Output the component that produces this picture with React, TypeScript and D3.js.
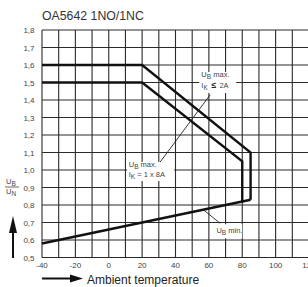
import * as d3 from "d3";
import React, { useEffect, useRef } from "react";

// axis ticks
const xTicks = [-40, -20, 0, 20, 40, 60, 80, 100, 120];
const yTicks = [1.8, 1.7, 1.6, 1.5, 1.4, 1.3, 1.2, 1.1, 1.0, 0.9, 0.8, 0.7, 0.6, 0.5];
const xGrid = d3.range(-40, 121, 10);

// curves [temp, U_B/U_N]
const maxHigh: [number, number][] = [[-40, 1.6], [20, 1.6], [85, 1.1], [85, 0.83]];
const maxLow: [number, number][] = [[-40, 1.5], [20, 1.5], [80, 1.05], [80, 0.815]];
const minLine: [number, number][] = [[-40, 0.58], [85, 0.83]];

// annotation leaders [from, to]
const leaderMax: [number, number][] = [[60.8, 1.43], [28.8, 1.02]];
const leaderMin: [number, number][] = [[56.8, 0.772], [66.8, 0.695]];

const W = 308;
const H = 287;

export default function App() {
  const svgRef = useRef<SVGSVGElement>(null);

  useEffect(() => {
    const x = d3.scaleLinear().domain([-40, 120]).range([42, 309]);
    const y = d3.scaleLinear().domain([0.5, 1.8]).range([257.5, 30]);

    const svg = d3.select(svgRef.current);
    svg.selectAll("*").remove();
    const narrow = "'Liberation Sans Narrow', 'Liberation Sans', Arial, sans-serif";

    // title
    svg.append("text")
      .attr("x", 42).attr("y", 19.5)
      .attr("font-family", "'Liberation Sans', Arial, sans-serif")
      .attr("font-size", 12.3)
      .attr("fill", "#333")
      .text("OA5642 1NO/1NC");

    // grid
    const grid = svg.append("g").attr("stroke", "#2a2a2a").attr("stroke-width", 1.1);
    grid.selectAll("line.h")
      .data(yTicks)
      .enter().append("line")
      .attr("x1", x(-40)).attr("x2", W)
      .attr("y1", (d) => y(d)).attr("y2", (d) => y(d));
    grid.selectAll("line.v")
      .data(xGrid)
      .enter().append("line")
      .attr("x1", (d) => x(d)).attr("x2", (d) => x(d))
      .attr("y1", y(1.8)).attr("y2", y(0.5));

    // y tick labels
    svg.append("g")
      .selectAll("text")
      .data(yTicks)
      .enter().append("text")
      .attr("x", 34.5).attr("y", (d) => y(d) + 3)
      .attr("text-anchor", "end")
      .attr("font-family", narrow)
      .attr("font-size", 8)
      .attr("fill", "#444")
      .text((d) => d.toFixed(1).replace(".", ","));

    // x tick labels
    svg.append("g")
      .selectAll("text")
      .data(xTicks)
      .enter().append("text")
      .attr("x", (d) => x(d)).attr("y", 268)
      .attr("text-anchor", "middle")
      .attr("font-family", narrow)
      .attr("font-size", 8)
      .attr("fill", "#444")
      .text((d) => String(d));

    // curves
    const line = d3.line<[number, number]>().x((d) => x(d[0])).y((d) => y(d[1]));
    [maxHigh, maxLow, minLine].forEach((c) => {
      svg.append("path")
        .attr("d", line(c))
        .attr("fill", "none")
        .attr("stroke", "#111")
        .attr("stroke-width", 2.4)
        .attr("stroke-linejoin", "miter");
    });

    // leaders
    [leaderMax, leaderMin].forEach((c) => {
      svg.append("path")
        .attr("d", line(c))
        .attr("fill", "none")
        .attr("stroke", "#222")
        .attr("stroke-width", 0.9);
    });

    // label boxes
    const label = (x0: number, x1: number, y0: number, y1: number) => {
      svg.append("rect")
        .attr("x", x(x0)).attr("y", y(y0))
        .attr("width", x(x1) - x(x0)).attr("height", y(y1) - y(y0))
        .attr("fill", "#fff");
    };
    label(54.2, 76.4, 1.56, 1.44);
    label(11, 39.2, 1.046, 0.937);
    label(63.5, 80, 0.69, 0.61);

    const txt = (tx: number, ty: number, parts: [string, boolean][]) => {
      const t = svg.append("text")
        .attr("x", x(tx)).attr("y", y(ty))
        .attr("font-family", narrow)
        .attr("font-size", 7.5)
        .attr("fill", "#444");
      parts.forEach(([s, sub]) => {
        const ts = t.append("tspan").text(s);
        if (sub) ts.attr("dy", 2).attr("font-size", 6.5);
        else ts.attr("dy", 0);
      });
      return t;
    };
    // reset baseline after subscript with separate texts
    const sub = (tx: number, ty: number, main: string, s: string, rest: string) => {
      const t = svg.append("text")
        .attr("x", x(tx)).attr("y", y(ty))
        .attr("font-family", narrow)
        .attr("font-size", 7.5)
        .attr("fill", "#444");
      t.append("tspan").text(main);
      t.append("tspan").attr("dy", 2).attr("font-size", 6.5).text(s);
      t.append("tspan").attr("dy", -2).text(rest);
    };
    sub(55.5, 1.533, "U", "B", " max.");
    sub(55.5, 1.47, "I", "K", "");
    svg.append("text")
      .attr("x", x(61.5)).attr("y", y(1.47))
      .attr("font-family", narrow)
      .attr("font-size", 8.5)
      .attr("font-weight", "bold")
      .attr("fill", "#222")
      .text("≤");
    svg.append("text")
      .attr("x", x(66.3)).attr("y", y(1.47))
      .attr("font-family", narrow)
      .attr("font-size", 7.5)
      .attr("fill", "#444")
      .text("2A");
    sub(12, 1.02, "U", "B", " max.");
    sub(12, 0.96, "I", "K", " = 1 x 8A");
    sub(64.5, 0.64, "U", "B", " min.");
    void txt;

    // y axis label fraction
    const fr = svg.append("g")
      .attr("font-family", narrow)
      .attr("font-size", 7.5)
      .attr("fill", "#444");
    fr.append("text").attr("x", 6).attr("y", 184).text("U");
    fr.append("text").attr("x", 11.5).attr("y", 186).attr("font-size", 6.5).text("B");
    fr.append("line").attr("x1", 5).attr("x2", 19).attr("y1", 187).attr("y2", 187)
      .attr("stroke", "#444").attr("stroke-width", 0.8);
    fr.append("text").attr("x", 6).attr("y", 194).text("U");
    fr.append("text").attr("x", 11.5).attr("y", 196).attr("font-size", 6.5).text("N");

    // up arrow
    svg.append("line").attr("x1", 13).attr("x2", 13).attr("y1", 258).attr("y2", 228)
      .attr("stroke", "#111").attr("stroke-width", 2);
    svg.append("path").attr("d", "M13,216 L17,233 L9,233 Z").attr("fill", "#111");

    // right arrow + label
    svg.append("line").attr("x1", 42).attr("x2", 72).attr("y1", 278.5).attr("y2", 278.5)
      .attr("stroke", "#111").attr("stroke-width", 2);
    svg.append("path").attr("d", "M83,278.5 L70,274.5 L70,282.5 Z").attr("fill", "#111");
    svg.append("text")
      .attr("x", 87).attr("y", 283.5)
      .attr("font-family", "'Liberation Sans', Arial, sans-serif")
      .attr("font-size", 12)
      .attr("fill", "#222")
      .text("Ambient temperature");
  }, []);

  return (
    <svg
      ref={svgRef}
      width={W}
      height={H}
      viewBox={`0 0 ${W} ${H}`}
      style={{ position: "absolute", left: 0, top: 0, background: "#fff" }}
    />
  );
}
